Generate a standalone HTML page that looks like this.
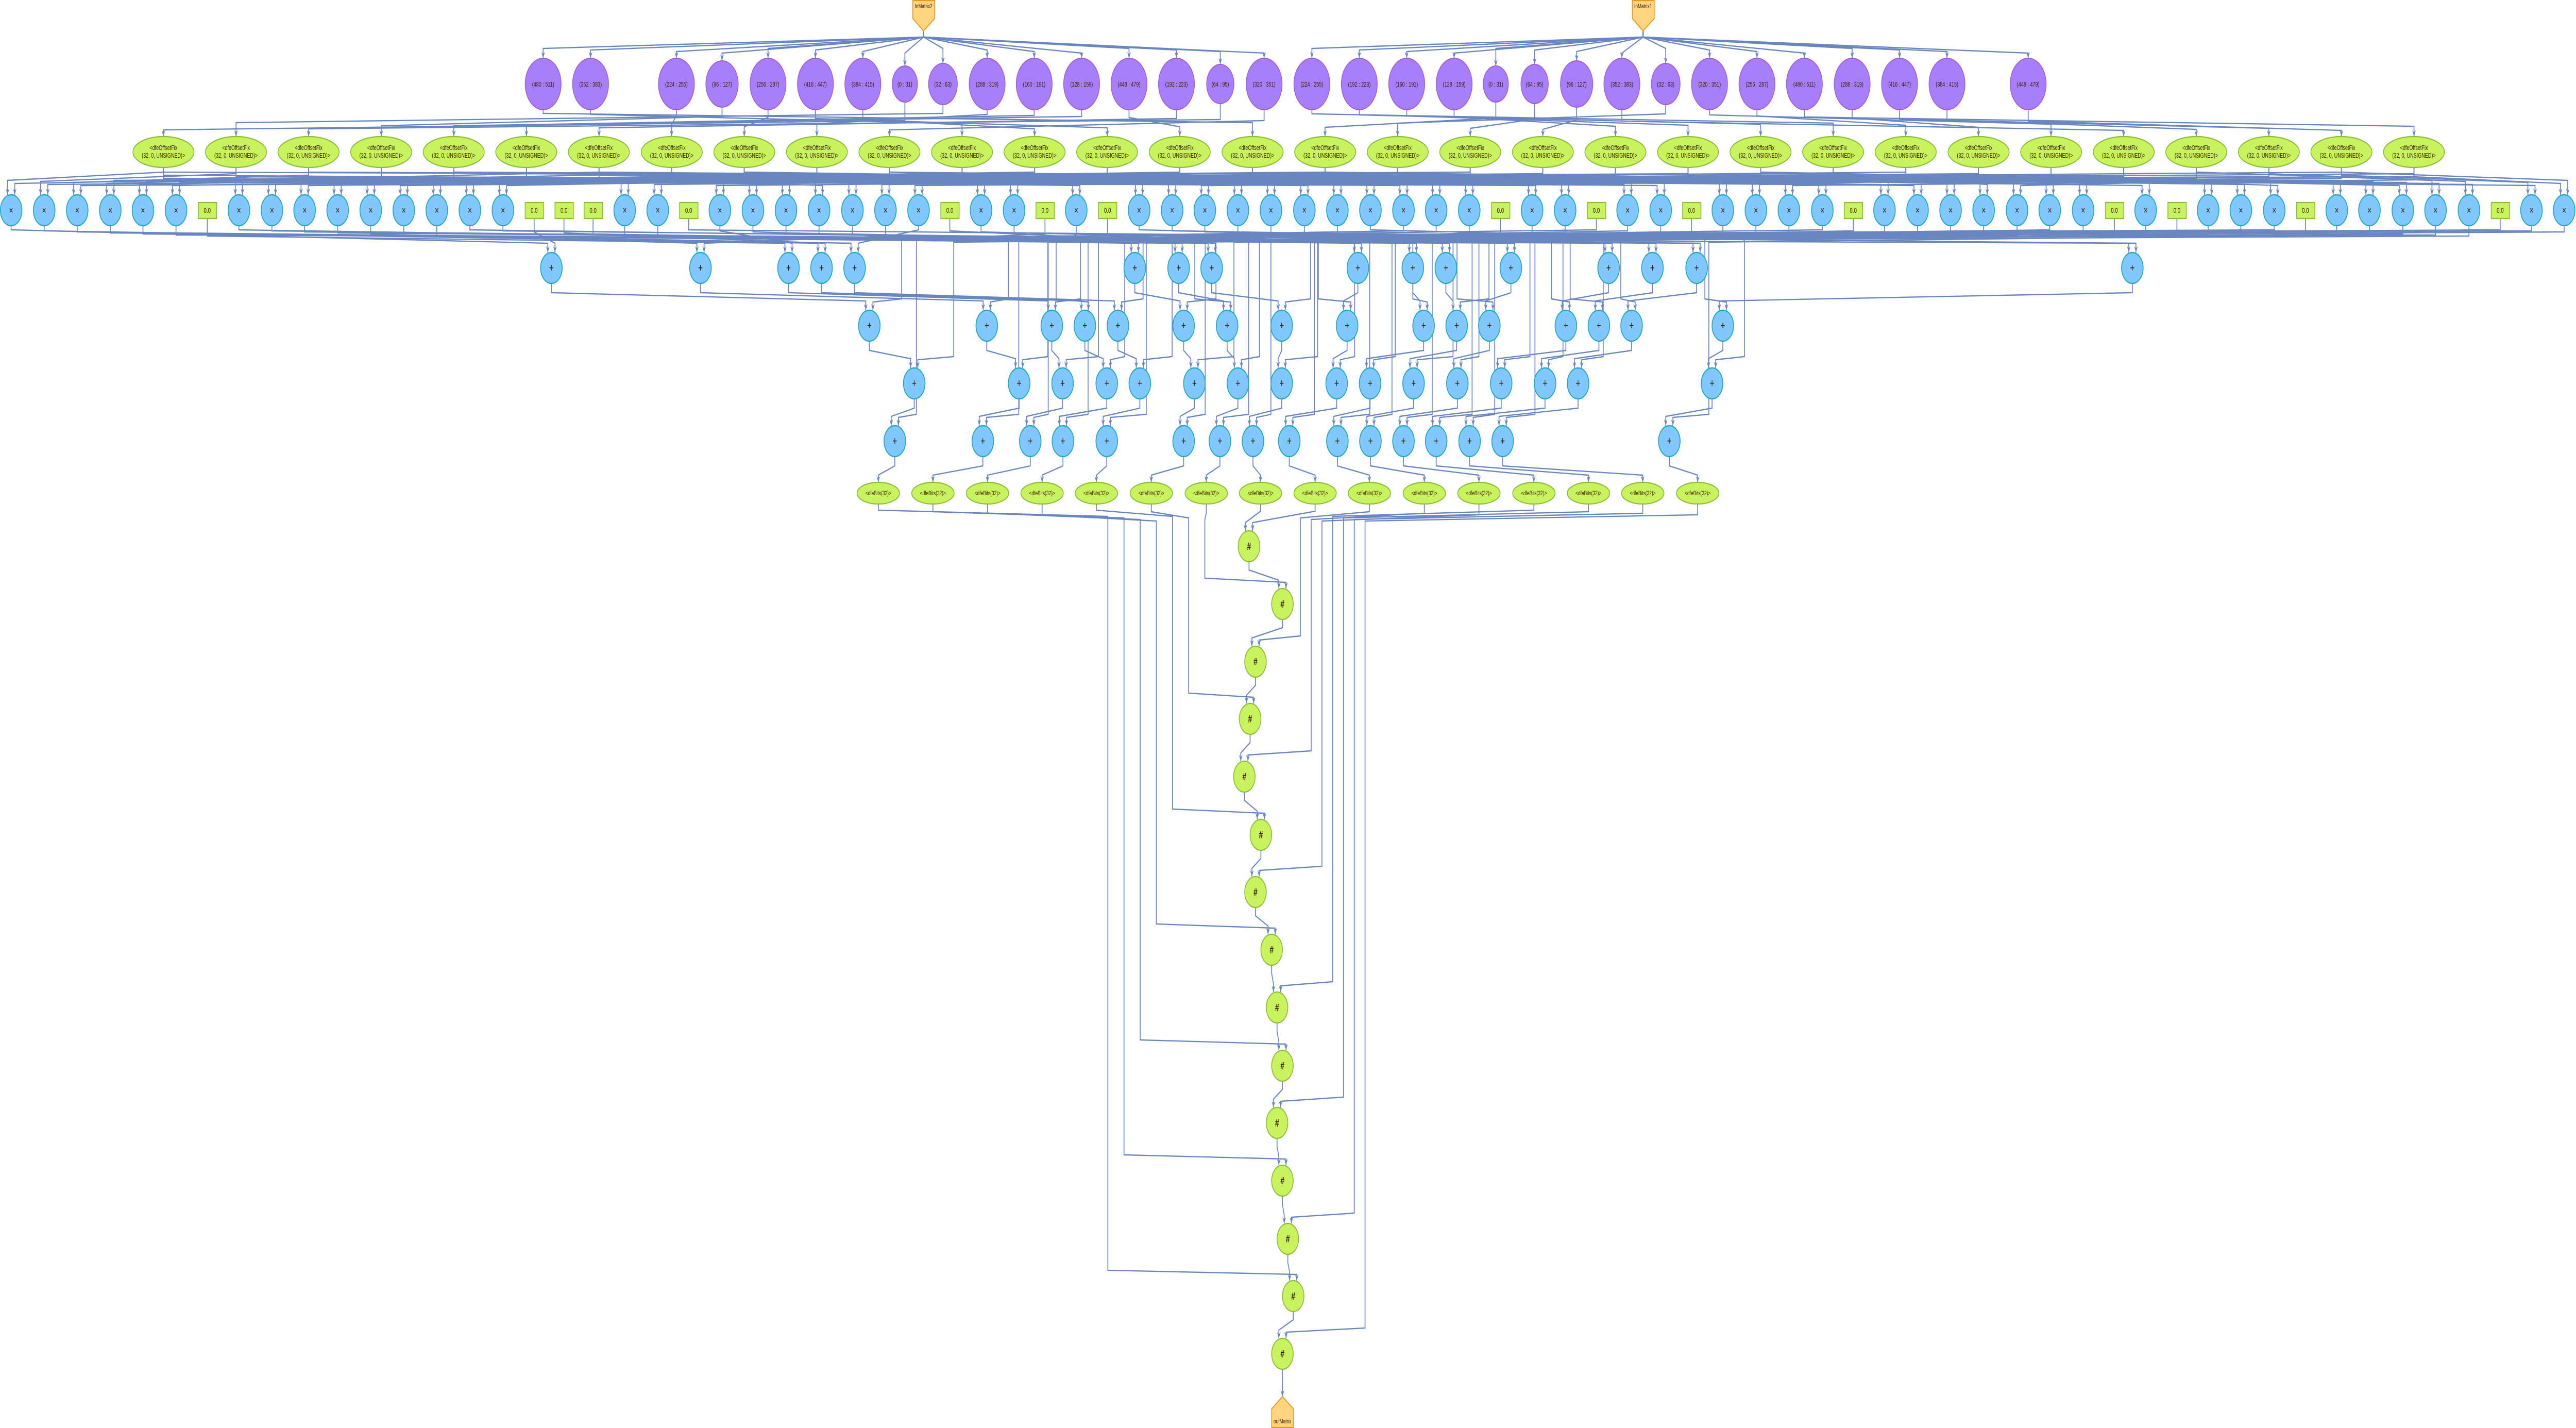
<!DOCTYPE html>
<html><head><meta charset="utf-8">
<style>
html,body{margin:0;padding:0;background:#fff;width:100%;height:100%;overflow:hidden;}
svg{display:block;width:100vw;height:100vh;}
#edges polyline{fill:none;stroke:#6a86c0;stroke-width:2.4;}
#edges .ah{fill:#6a86c0;stroke:none;}
.p circle{fill:#a87ffb;stroke:#a45ad6;stroke-width:2;}
.g ellipse{fill:#c9f25f;stroke:#8cbc3a;stroke-width:2.2;}
.b circle{fill:#80c8ff;stroke:#26a9c0;stroke-width:2.4;}
.r rect{fill:#c9f25f;stroke:#8cbc3a;stroke-width:2.2;}
.h circle{fill:#c9f25f;stroke:#8cbc3a;stroke-width:2.2;}
.o path{fill:#ffd580;stroke:#f0961e;stroke-width:2.2;}
text{font-family:"Liberation Sans",sans-serif;fill:#3a1e00;text-anchor:middle;}
.tp text{font-size:13px;}
.tg text{font-size:13px;}
.tx text{font-size:20px;}
.tpl text{font-size:22px;}
.tr text{font-size:14px;}
.td text{font-size:12px;}
.th text{font-size:20px;font-weight:bold;}
.to text{font-size:12px;}
</style></head><body>
<svg id="s" viewBox="0 0 7171 2771" preserveAspectRatio="none" xmlns="http://www.w3.org/2000/svg">
<g id="edges"></g>

<g class="o">
<path d="M2541,1 L2602,1 L2602,36 L2571,60 L2541,36 Z"/>
<path d="M4544,1 L4605,1 L4605,36 L4574,60 L4544,36 Z"/>
<path d="M3570,2710 L3601,2734 L3601,2770 L3540,2770 L3540,2734 Z"/>
</g>
<g class="to">
<text x="2571" y="16">InMatrix2</text>
<text x="4574" y="16">InMatrix1</text>
<text x="3570" y="2762">outMatrix</text>
</g>

<g class="p">
<circle cx="1512" cy="163" r="50"/><circle cx="1644" cy="163" r="50"/><circle cx="1883" cy="163" r="50"/><circle cx="2010" cy="163" r="45"/>
<circle cx="2138" cy="163" r="50"/><circle cx="2270" cy="163" r="50"/><circle cx="2402" cy="163" r="50"/><circle cx="2519" cy="163" r="35"/>
<circle cx="2625" cy="163" r="40"/><circle cx="2748" cy="163" r="50"/><circle cx="2879" cy="163" r="50"/><circle cx="3011" cy="163" r="50"/>
<circle cx="3143" cy="163" r="50"/><circle cx="3275" cy="163" r="50"/><circle cx="3397" cy="163" r="38"/><circle cx="3519" cy="163" r="50"/>
<circle cx="3652" cy="163" r="50"/><circle cx="3784" cy="163" r="50"/><circle cx="3916" cy="163" r="50"/><circle cx="4048" cy="163" r="50"/>
<circle cx="4164" cy="163" r="35"/><circle cx="4272" cy="163" r="38"/><circle cx="4389" cy="163" r="45"/><circle cx="4515" cy="163" r="50"/>
<circle cx="4637" cy="163" r="40"/><circle cx="4759" cy="163" r="50"/><circle cx="4891" cy="163" r="50"/><circle cx="5023" cy="163" r="50"/>
<circle cx="5156" cy="163" r="50"/><circle cx="5288" cy="163" r="50"/><circle cx="5420" cy="163" r="50"/><circle cx="5646" cy="163" r="50"/>
</g>
<g class="tp">
<text x="1512" y="168">(480 : 511)</text><text x="1644" y="168">(352 : 383)</text><text x="1883" y="168">(224 : 255)</text><text x="2010" y="168">(96 : 127)</text>
<text x="2138" y="168">(256 : 287)</text><text x="2270" y="168">(416 : 447)</text><text x="2402" y="168">(384 : 415)</text><text x="2519" y="168">(0 : 31)</text>
<text x="2625" y="168">(32 : 63)</text><text x="2748" y="168">(288 : 319)</text><text x="2879" y="168">(160 : 191)</text><text x="3011" y="168">(128 : 159)</text>
<text x="3143" y="168">(448 : 479)</text><text x="3275" y="168">(192 : 223)</text><text x="3397" y="168">(64 : 95)</text><text x="3519" y="168">(320 : 351)</text>
<text x="3652" y="168">(224 : 255)</text><text x="3784" y="168">(192 : 223)</text><text x="3916" y="168">(160 : 191)</text><text x="4048" y="168">(128 : 159)</text>
<text x="4164" y="168">(0 : 31)</text><text x="4272" y="168">(64 : 95)</text><text x="4389" y="168">(96 : 127)</text><text x="4515" y="168">(352 : 383)</text>
<text x="4637" y="168">(32 : 63)</text><text x="4759" y="168">(320 : 351)</text><text x="4891" y="168">(256 : 287)</text><text x="5023" y="168">(480 : 511)</text>
<text x="5156" y="168">(288 : 319)</text><text x="5288" y="168">(416 : 447)</text><text x="5420" y="168">(384 : 415)</text><text x="5646" y="168">(448 : 479)</text>
</g>

<g class="g">
<ellipse cx="455" cy="295" rx="85" ry="30"/><ellipse cx="657" cy="295" rx="85" ry="30"/><ellipse cx="859" cy="295" rx="85" ry="30"/><ellipse cx="1061" cy="295" rx="85" ry="30"/>
<ellipse cx="1263" cy="295" rx="85" ry="30"/><ellipse cx="1465" cy="295" rx="85" ry="30"/><ellipse cx="1667" cy="295" rx="85" ry="30"/><ellipse cx="1870" cy="295" rx="85" ry="30"/>
<ellipse cx="2072" cy="295" rx="85" ry="30"/><ellipse cx="2274" cy="295" rx="85" ry="30"/><ellipse cx="2476" cy="295" rx="85" ry="30"/><ellipse cx="2678" cy="295" rx="85" ry="30"/>
<ellipse cx="2880" cy="295" rx="85" ry="30"/><ellipse cx="3082" cy="295" rx="85" ry="30"/><ellipse cx="3284" cy="295" rx="85" ry="30"/><ellipse cx="3487" cy="295" rx="85" ry="30"/>
<ellipse cx="3689" cy="295" rx="85" ry="30"/><ellipse cx="3891" cy="295" rx="85" ry="30"/><ellipse cx="4093" cy="295" rx="85" ry="30"/><ellipse cx="4295" cy="295" rx="85" ry="30"/>
<ellipse cx="4497" cy="295" rx="85" ry="30"/><ellipse cx="4699" cy="295" rx="85" ry="30"/><ellipse cx="4901" cy="295" rx="85" ry="30"/><ellipse cx="5103" cy="295" rx="85" ry="30"/>
<ellipse cx="5305" cy="295" rx="85" ry="30"/><ellipse cx="5508" cy="295" rx="85" ry="30"/><ellipse cx="5710" cy="295" rx="85" ry="30"/><ellipse cx="5912" cy="295" rx="85" ry="30"/>
<ellipse cx="6114" cy="295" rx="85" ry="30"/><ellipse cx="6316" cy="295" rx="85" ry="30"/><ellipse cx="6518" cy="295" rx="85" ry="30"/><ellipse cx="6720" cy="295" rx="85" ry="30"/>
</g>
<g class="tg">
<text x="455" y="291">&lt;dfeOffsetFix</text><text x="455" y="306">(32, 0, UNSIGNED)&gt;</text>
<text x="657" y="291">&lt;dfeOffsetFix</text><text x="657" y="306">(32, 0, UNSIGNED)&gt;</text>
<text x="859" y="291">&lt;dfeOffsetFix</text><text x="859" y="306">(32, 0, UNSIGNED)&gt;</text>
<text x="1061" y="291">&lt;dfeOffsetFix</text><text x="1061" y="306">(32, 0, UNSIGNED)&gt;</text>
<text x="1263" y="291">&lt;dfeOffsetFix</text><text x="1263" y="306">(32, 0, UNSIGNED)&gt;</text>
<text x="1465" y="291">&lt;dfeOffsetFix</text><text x="1465" y="306">(32, 0, UNSIGNED)&gt;</text>
<text x="1667" y="291">&lt;dfeOffsetFix</text><text x="1667" y="306">(32, 0, UNSIGNED)&gt;</text>
<text x="1870" y="291">&lt;dfeOffsetFix</text><text x="1870" y="306">(32, 0, UNSIGNED)&gt;</text>
<text x="2072" y="291">&lt;dfeOffsetFix</text><text x="2072" y="306">(32, 0, UNSIGNED)&gt;</text>
<text x="2274" y="291">&lt;dfeOffsetFix</text><text x="2274" y="306">(32, 0, UNSIGNED)&gt;</text>
<text x="2476" y="291">&lt;dfeOffsetFix</text><text x="2476" y="306">(32, 0, UNSIGNED)&gt;</text>
<text x="2678" y="291">&lt;dfeOffsetFix</text><text x="2678" y="306">(32, 0, UNSIGNED)&gt;</text>
<text x="2880" y="291">&lt;dfeOffsetFix</text><text x="2880" y="306">(32, 0, UNSIGNED)&gt;</text>
<text x="3082" y="291">&lt;dfeOffsetFix</text><text x="3082" y="306">(32, 0, UNSIGNED)&gt;</text>
<text x="3284" y="291">&lt;dfeOffsetFix</text><text x="3284" y="306">(32, 0, UNSIGNED)&gt;</text>
<text x="3487" y="291">&lt;dfeOffsetFix</text><text x="3487" y="306">(32, 0, UNSIGNED)&gt;</text>
<text x="3689" y="291">&lt;dfeOffsetFix</text><text x="3689" y="306">(32, 0, UNSIGNED)&gt;</text>
<text x="3891" y="291">&lt;dfeOffsetFix</text><text x="3891" y="306">(32, 0, UNSIGNED)&gt;</text>
<text x="4093" y="291">&lt;dfeOffsetFix</text><text x="4093" y="306">(32, 0, UNSIGNED)&gt;</text>
<text x="4295" y="291">&lt;dfeOffsetFix</text><text x="4295" y="306">(32, 0, UNSIGNED)&gt;</text>
<text x="4497" y="291">&lt;dfeOffsetFix</text><text x="4497" y="306">(32, 0, UNSIGNED)&gt;</text>
<text x="4699" y="291">&lt;dfeOffsetFix</text><text x="4699" y="306">(32, 0, UNSIGNED)&gt;</text>
<text x="4901" y="291">&lt;dfeOffsetFix</text><text x="4901" y="306">(32, 0, UNSIGNED)&gt;</text>
<text x="5103" y="291">&lt;dfeOffsetFix</text><text x="5103" y="306">(32, 0, UNSIGNED)&gt;</text>
<text x="5305" y="291">&lt;dfeOffsetFix</text><text x="5305" y="306">(32, 0, UNSIGNED)&gt;</text>
<text x="5508" y="291">&lt;dfeOffsetFix</text><text x="5508" y="306">(32, 0, UNSIGNED)&gt;</text>
<text x="5710" y="291">&lt;dfeOffsetFix</text><text x="5710" y="306">(32, 0, UNSIGNED)&gt;</text>
<text x="5912" y="291">&lt;dfeOffsetFix</text><text x="5912" y="306">(32, 0, UNSIGNED)&gt;</text>
<text x="6114" y="291">&lt;dfeOffsetFix</text><text x="6114" y="306">(32, 0, UNSIGNED)&gt;</text>
<text x="6316" y="291">&lt;dfeOffsetFix</text><text x="6316" y="306">(32, 0, UNSIGNED)&gt;</text>
<text x="6518" y="291">&lt;dfeOffsetFix</text><text x="6518" y="306">(32, 0, UNSIGNED)&gt;</text>
<text x="6720" y="291">&lt;dfeOffsetFix</text><text x="6720" y="306">(32, 0, UNSIGNED)&gt;</text>
</g>

<g class="b">
<circle cx="31" cy="408" r="30"/><circle cx="123" cy="408" r="30"/><circle cx="215" cy="408" r="30"/><circle cx="307" cy="408" r="30"/><circle cx="398" cy="408" r="30"/><circle cx="490" cy="408" r="30"/>
<circle cx="665" cy="408" r="30"/><circle cx="757" cy="408" r="30"/><circle cx="848" cy="408" r="30"/><circle cx="940" cy="408" r="30"/><circle cx="1032" cy="408" r="30"/><circle cx="1124" cy="408" r="30"/><circle cx="1216" cy="408" r="30"/><circle cx="1308" cy="408" r="30"/><circle cx="1400" cy="408" r="30"/>
<circle cx="1739" cy="408" r="30"/><circle cx="1831" cy="408" r="30"/>
<circle cx="2004" cy="408" r="30"/><circle cx="2096" cy="408" r="30"/><circle cx="2188" cy="408" r="30"/><circle cx="2280" cy="408" r="30"/><circle cx="2373" cy="408" r="30"/><circle cx="2465" cy="408" r="30"/><circle cx="2557" cy="408" r="30"/>
<circle cx="2731" cy="408" r="30"/><circle cx="2823" cy="408" r="30"/><circle cx="2996" cy="408" r="30"/>
<circle cx="3171" cy="408" r="30"/><circle cx="3263" cy="408" r="30"/><circle cx="3354" cy="408" r="30"/><circle cx="3446" cy="408" r="30"/><circle cx="3538" cy="408" r="30"/><circle cx="3631" cy="408" r="30"/><circle cx="3723" cy="408" r="30"/><circle cx="3815" cy="408" r="30"/><circle cx="3907" cy="408" r="30"/><circle cx="3998" cy="408" r="30"/><circle cx="4090" cy="408" r="30"/>
<circle cx="4265" cy="408" r="30"/><circle cx="4357" cy="408" r="30"/><circle cx="4531" cy="408" r="30"/><circle cx="4623" cy="408" r="30"/>
<circle cx="4796" cy="408" r="30"/><circle cx="4888" cy="408" r="30"/><circle cx="4980" cy="408" r="30"/><circle cx="5073" cy="408" r="30"/>
<circle cx="5246" cy="408" r="30"/><circle cx="5338" cy="408" r="30"/><circle cx="5430" cy="408" r="30"/><circle cx="5522" cy="408" r="30"/><circle cx="5615" cy="408" r="30"/><circle cx="5706" cy="408" r="30"/><circle cx="5799" cy="408" r="30"/>
<circle cx="5973" cy="408" r="30"/><circle cx="6147" cy="408" r="30"/><circle cx="6238" cy="408" r="30"/><circle cx="6331" cy="408" r="30"/>
<circle cx="6505" cy="408" r="30"/><circle cx="6596" cy="408" r="30"/><circle cx="6689" cy="408" r="30"/><circle cx="6780" cy="408" r="30"/><circle cx="6873" cy="408" r="30"/>
<circle cx="7047" cy="408" r="30"/><circle cx="7138" cy="408" r="30"/>
<circle cx="1535" cy="520" r="30"/><circle cx="1950" cy="520" r="30"/><circle cx="2195" cy="520" r="30"/><circle cx="2287" cy="520" r="30"/><circle cx="2379" cy="520" r="30"/><circle cx="3159" cy="520" r="30"/><circle cx="3281" cy="520" r="30"/><circle cx="3373" cy="520" r="30"/><circle cx="3780" cy="520" r="30"/><circle cx="3933" cy="520" r="30"/><circle cx="4025" cy="520" r="30"/><circle cx="4206" cy="520" r="30"/><circle cx="4478" cy="520" r="30"/><circle cx="4600" cy="520" r="30"/><circle cx="4723" cy="520" r="30"/><circle cx="5936" cy="520" r="30"/>
<circle cx="2420" cy="632" r="30"/><circle cx="2747" cy="632" r="30"/><circle cx="2928" cy="632" r="30"/><circle cx="3020" cy="632" r="30"/><circle cx="3112" cy="632" r="30"/><circle cx="3295" cy="632" r="30"/><circle cx="3416" cy="632" r="30"/><circle cx="3568" cy="632" r="30"/><circle cx="3750" cy="632" r="30"/><circle cx="3963" cy="632" r="30"/><circle cx="4055" cy="632" r="30"/><circle cx="4146" cy="632" r="30"/><circle cx="4359" cy="632" r="30"/><circle cx="4451" cy="632" r="30"/><circle cx="4542" cy="632" r="30"/><circle cx="4796" cy="632" r="30"/>
<circle cx="2545" cy="744" r="30"/><circle cx="2837" cy="744" r="30"/><circle cx="2958" cy="744" r="30"/><circle cx="3081" cy="744" r="30"/><circle cx="3173" cy="744" r="30"/><circle cx="3325" cy="744" r="30"/><circle cx="3446" cy="744" r="30"/><circle cx="3568" cy="744" r="30"/><circle cx="3721" cy="744" r="30"/><circle cx="3814" cy="744" r="30"/><circle cx="3935" cy="744" r="30"/><circle cx="4057" cy="744" r="30"/><circle cx="4179" cy="744" r="30"/><circle cx="4301" cy="744" r="30"/><circle cx="4393" cy="744" r="30"/><circle cx="4766" cy="744" r="30"/>
<circle cx="2491" cy="856" r="30"/><circle cx="2736" cy="856" r="30"/><circle cx="2868" cy="856" r="30"/><circle cx="2959" cy="856" r="30"/><circle cx="3081" cy="856" r="30"/><circle cx="3295" cy="856" r="30"/><circle cx="3396" cy="856" r="30"/><circle cx="3488" cy="856" r="30"/><circle cx="3589" cy="856" r="30"/><circle cx="3723" cy="856" r="30"/><circle cx="3815" cy="856" r="30"/><circle cx="3907" cy="856" r="30"/><circle cx="3998" cy="856" r="30"/><circle cx="4091" cy="856" r="30"/><circle cx="4183" cy="856" r="30"/><circle cx="4647" cy="856" r="30"/>
</g>
<g class="tx">
<text x="31" y="415">×</text><text x="123" y="415">×</text><text x="215" y="415">×</text><text x="307" y="415">×</text><text x="398" y="415">×</text><text x="490" y="415">×</text>
<text x="665" y="415">×</text><text x="757" y="415">×</text><text x="848" y="415">×</text><text x="940" y="415">×</text><text x="1032" y="415">×</text><text x="1124" y="415">×</text><text x="1216" y="415">×</text><text x="1308" y="415">×</text><text x="1400" y="415">×</text>
<text x="1739" y="415">×</text><text x="1831" y="415">×</text>
<text x="2004" y="415">×</text><text x="2096" y="415">×</text><text x="2188" y="415">×</text><text x="2280" y="415">×</text><text x="2373" y="415">×</text><text x="2465" y="415">×</text><text x="2557" y="415">×</text>
<text x="2731" y="415">×</text><text x="2823" y="415">×</text><text x="2996" y="415">×</text>
<text x="3171" y="415">×</text><text x="3263" y="415">×</text><text x="3354" y="415">×</text><text x="3446" y="415">×</text><text x="3538" y="415">×</text><text x="3631" y="415">×</text><text x="3723" y="415">×</text><text x="3815" y="415">×</text><text x="3907" y="415">×</text><text x="3998" y="415">×</text><text x="4090" y="415">×</text>
<text x="4265" y="415">×</text><text x="4357" y="415">×</text><text x="4531" y="415">×</text><text x="4623" y="415">×</text>
<text x="4796" y="415">×</text><text x="4888" y="415">×</text><text x="4980" y="415">×</text><text x="5073" y="415">×</text>
<text x="5246" y="415">×</text><text x="5338" y="415">×</text><text x="5430" y="415">×</text><text x="5522" y="415">×</text><text x="5615" y="415">×</text><text x="5706" y="415">×</text><text x="5799" y="415">×</text>
<text x="5973" y="415">×</text><text x="6147" y="415">×</text><text x="6238" y="415">×</text><text x="6331" y="415">×</text>
<text x="6505" y="415">×</text><text x="6596" y="415">×</text><text x="6689" y="415">×</text><text x="6780" y="415">×</text><text x="6873" y="415">×</text>
<text x="7047" y="415">×</text><text x="7138" y="415">×</text>
</g>
<g class="tpl">
<text x="1535" y="527">+</text><text x="1950" y="527">+</text><text x="2195" y="527">+</text><text x="2287" y="527">+</text><text x="2379" y="527">+</text><text x="3159" y="527">+</text><text x="3281" y="527">+</text><text x="3373" y="527">+</text><text x="3780" y="527">+</text><text x="3933" y="527">+</text><text x="4025" y="527">+</text><text x="4206" y="527">+</text><text x="4478" y="527">+</text><text x="4600" y="527">+</text><text x="4723" y="527">+</text><text x="5936" y="527">+</text>
<text x="2420" y="639">+</text><text x="2747" y="639">+</text><text x="2928" y="639">+</text><text x="3020" y="639">+</text><text x="3112" y="639">+</text><text x="3295" y="639">+</text><text x="3416" y="639">+</text><text x="3568" y="639">+</text><text x="3750" y="639">+</text><text x="3963" y="639">+</text><text x="4055" y="639">+</text><text x="4146" y="639">+</text><text x="4359" y="639">+</text><text x="4451" y="639">+</text><text x="4542" y="639">+</text><text x="4796" y="639">+</text>
<text x="2545" y="751">+</text><text x="2837" y="751">+</text><text x="2958" y="751">+</text><text x="3081" y="751">+</text><text x="3173" y="751">+</text><text x="3325" y="751">+</text><text x="3446" y="751">+</text><text x="3568" y="751">+</text><text x="3721" y="751">+</text><text x="3814" y="751">+</text><text x="3935" y="751">+</text><text x="4057" y="751">+</text><text x="4179" y="751">+</text><text x="4301" y="751">+</text><text x="4393" y="751">+</text><text x="4766" y="751">+</text>
<text x="2491" y="863">+</text><text x="2736" y="863">+</text><text x="2868" y="863">+</text><text x="2959" y="863">+</text><text x="3081" y="863">+</text><text x="3295" y="863">+</text><text x="3396" y="863">+</text><text x="3488" y="863">+</text><text x="3589" y="863">+</text><text x="3723" y="863">+</text><text x="3815" y="863">+</text><text x="3907" y="863">+</text><text x="3998" y="863">+</text><text x="4091" y="863">+</text><text x="4183" y="863">+</text><text x="4647" y="863">+</text>
</g>

<g class="r">
<rect x="552" y="393" width="51" height="31"/><rect x="1462" y="393" width="51" height="31"/><rect x="1545" y="393" width="51" height="31"/><rect x="1626" y="393" width="51" height="31"/>
<rect x="1892" y="393" width="51" height="31"/><rect x="2619" y="393" width="51" height="31"/><rect x="2884" y="393" width="51" height="31"/><rect x="3058" y="393" width="51" height="31"/>
<rect x="4152" y="393" width="51" height="31"/><rect x="4419" y="393" width="51" height="31"/><rect x="4684" y="393" width="51" height="31"/><rect x="5134" y="393" width="51" height="31"/>
<rect x="5861" y="393" width="51" height="31"/><rect x="6035" y="393" width="51" height="31"/><rect x="6393" y="393" width="51" height="31"/><rect x="6935" y="393" width="51" height="31"/>
</g>
<g class="tr">
<text x="577" y="413">0.0</text><text x="1487" y="413">0.0</text><text x="1570" y="413">0.0</text><text x="1651" y="413">0.0</text>
<text x="1917" y="413">0.0</text><text x="2644" y="413">0.0</text><text x="2909" y="413">0.0</text><text x="3083" y="413">0.0</text>
<text x="4177" y="413">0.0</text><text x="4444" y="413">0.0</text><text x="4709" y="413">0.0</text><text x="5159" y="413">0.0</text>
<text x="5886" y="413">0.0</text><text x="6060" y="413">0.0</text><text x="6418" y="413">0.0</text><text x="6960" y="413">0.0</text>
</g>

<g class="g">
<ellipse cx="2445" cy="957" rx="59" ry="21"/><ellipse cx="2597" cy="957" rx="59" ry="21"/><ellipse cx="2749" cy="957" rx="59" ry="21"/><ellipse cx="2901" cy="957" rx="59" ry="21"/>
<ellipse cx="3052" cy="957" rx="59" ry="21"/><ellipse cx="3205" cy="957" rx="59" ry="21"/><ellipse cx="3358" cy="957" rx="59" ry="21"/><ellipse cx="3509" cy="957" rx="59" ry="21"/>
<ellipse cx="3661" cy="957" rx="59" ry="21"/><ellipse cx="3812" cy="957" rx="59" ry="21"/><ellipse cx="3965" cy="957" rx="59" ry="21"/><ellipse cx="4117" cy="957" rx="59" ry="21"/>
<ellipse cx="4270" cy="957" rx="59" ry="21"/><ellipse cx="4422" cy="957" rx="59" ry="21"/><ellipse cx="4573" cy="957" rx="59" ry="21"/><ellipse cx="4726" cy="957" rx="59" ry="21"/>
</g>
<g class="td">
<text x="2445" y="961">&lt;dfeBits(32)&gt;</text><text x="2597" y="961">&lt;dfeBits(32)&gt;</text><text x="2749" y="961">&lt;dfeBits(32)&gt;</text><text x="2901" y="961">&lt;dfeBits(32)&gt;</text>
<text x="3052" y="961">&lt;dfeBits(32)&gt;</text><text x="3205" y="961">&lt;dfeBits(32)&gt;</text><text x="3358" y="961">&lt;dfeBits(32)&gt;</text><text x="3509" y="961">&lt;dfeBits(32)&gt;</text>
<text x="3661" y="961">&lt;dfeBits(32)&gt;</text><text x="3812" y="961">&lt;dfeBits(32)&gt;</text><text x="3965" y="961">&lt;dfeBits(32)&gt;</text><text x="4117" y="961">&lt;dfeBits(32)&gt;</text>
<text x="4270" y="961">&lt;dfeBits(32)&gt;</text><text x="4422" y="961">&lt;dfeBits(32)&gt;</text><text x="4573" y="961">&lt;dfeBits(32)&gt;</text><text x="4726" y="961">&lt;dfeBits(32)&gt;</text>
</g>

<g class="h">
<circle cx="3477" cy="1060" r="30"/><circle cx="3570" cy="1172" r="30"/><circle cx="3495" cy="1284" r="30"/><circle cx="3480" cy="1395" r="30"/><circle cx="3464" cy="1507" r="30"/>
<circle cx="3510" cy="1620" r="30"/><circle cx="3495" cy="1731" r="30"/><circle cx="3540" cy="1843" r="30"/><circle cx="3555" cy="1955" r="30"/><circle cx="3570" cy="2068" r="30"/>
<circle cx="3555" cy="2179" r="30"/><circle cx="3570" cy="2291" r="30"/><circle cx="3585" cy="2404" r="30"/><circle cx="3600" cy="2515" r="30"/><circle cx="3570" cy="2627" r="30"/>
</g>
<g class="th">
<text x="3477" y="1067">#</text><text x="3570" y="1179">#</text><text x="3495" y="1291">#</text><text x="3480" y="1402">#</text><text x="3464" y="1514">#</text>
<text x="3510" y="1627">#</text><text x="3495" y="1738">#</text><text x="3540" y="1850">#</text><text x="3555" y="1962">#</text><text x="3570" y="2075">#</text>
<text x="3555" y="2186">#</text><text x="3570" y="2298">#</text><text x="3585" y="2411">#</text><text x="3600" y="2522">#</text><text x="3570" y="2634">#</text>
</g>
</svg>
<script>
(function(){
var NS='http://www.w3.org/2000/svg';
var E=document.getElementById('edges');
function pl(pts,arrow){
  var p=document.createElementNS(NS,'polyline');
  p.setAttribute('points',pts.map(function(a){return a[0]+','+a[1];}).join(' '));
  E.appendChild(p);
  if(arrow){var l=pts[pts.length-1],x=l[0],y=l[1];
    var t=document.createElementNS(NS,'path');
    t.setAttribute('d','M'+(x-5)+','+(y-12)+'L'+x+','+y+'L'+(x+5)+','+(y-12)+'L'+x+','+(y-8)+'Z');
    t.setAttribute('class','ah');E.appendChild(t);}
}
var P1=[[1512,50,15],[1644,50,11],[1883,50,7],[2010,45,3],[2138,50,8],[2270,50,13],[2402,50,12],[2519,35,0],[2625,40,1],[2748,50,9],[2879,50,5],[3011,50,4],[3143,50,14],[3275,50,6],[3397,38,2],[3519,50,10]];
var P2=[[3652,50,7],[3784,50,6],[3916,50,5],[4048,50,4],[4164,35,0],[4272,38,2],[4389,45,3],[4515,50,11],[4637,40,1],[4759,50,10],[4891,50,8],[5023,50,15],[5156,50,9],[5288,50,13],[5420,50,12],[5646,50,14]];
function GX(k){return 455+202.1*k;}
P1.forEach(function(p,i){pl([[2571,60],[2571,72],[p[0],94+(i%4)*3],[p[0],163-p[1]]],1);});
P2.forEach(function(p,i){pl([[4574,60],[4574,72],[p[0],94+(i%4)*3],[p[0],163-p[1]]],1);});
P1.forEach(function(p,i){var g=GX(p[2]);pl([[p[0],163+p[1]],[p[0],220+(i%8)*2],[g,238+(i%8)*2],[g,265]],1);});
P2.forEach(function(p,i){var g=GX(16+p[2]);pl([[p[0],163+p[1]],[p[0],221+(i%8)*2],[g,239+(i%8)*2],[g,265]],1);});
var items="X31,X123,X215,X307,X398,X490,R577,X665,X757,X848,X940,X1032,X1124,X1216,X1308,X1400,R1487,R1570,R1651,X1739,X1831,R1917,X2004,X2096,X2188,X2280,X2373,X2465,X2557,R2644,X2731,X2823,R2909,X2996,R3083,X3171,X3263,X3354,X3446,X3538,X3631,X3723,X3815,X3907,X3998,X4090,R4177,X4265,X4357,R4444,X4531,X4623,R4709,X4796,X4888,X4980,X5073,R5159,X5246,X5338,X5430,X5522,X5615,X5706,X5799,R5886,X5973,R6060,X6147,X6238,X6331,R6418,X6505,X6596,X6689,X6780,X6873,R6960,X7047,X7138".split(',').map(function(s){return [s[0],+s.slice(1)];});
var m=0;
items.forEach(function(it){ if(it[0]!='X')return; var x=it[1];
  var a=m%32,b=(m*5+3)%32,o=m%6,o2=(o+3)%6;
  pl([[GX(a),325],[GX(a),334+o*3],[x-10,350+o*2],[x-10,378]],1);
  pl([[GX(b),325],[GX(b),334+o2*3],[x+10,350+o2*2],[x+10,378]],1);
  m++;});
var R=[[1535,1950,2195,2287,2379,3159,3281,3373,3780,3933,4025,4206,4478,4600,4723,5936],
[2420,2747,2928,3020,3112,3295,3416,3568,3750,3963,4055,4146,4359,4451,4542,4796],
[2545,2837,2958,3081,3173,3325,3446,3568,3721,3814,3935,4057,4179,4301,4393,4766],
[2491,2736,2868,2959,3081,3295,3396,3488,3589,3723,3815,3907,3998,4091,4183,4647]];
var RY=[520,632,744,856];
var DB=[2445,2597,2749,2901,3052,3205,3358,3509,3661,3812,3965,4117,4270,4422,4573,4726];
var cnt=[];for(var q=0;q<16;q++)cnt.push(0);
items.forEach(function(it,i){var j=(i*3)%16,s=cnt[j]++;var sx=it[1],sb=it[0]=='X'?438:424;
  var row=s<2?0:s-1;var tx=R[row][j]+(s==0?-10:10);var ty=RY[row]-30;var k=i%7;
  if(row==0){pl([[sx,sb],[sx,446+k*2],[tx,ty-18],[tx,ty]],1);}
  else{var mx=tx+(sx<tx?-1:1)*(40+k*10);pl([[sx,sb],[sx,446+k*2],[mx,458+k*2],[mx,ty-22],[tx,ty-16],[tx,ty]],1);}
});
for(var j=0;j<16;j++){
  for(var r=0;r<3;r++){pl([[R[r][j],RY[r]+30],[R[r][j],RY[r]+48],[R[r+1][j]-10,RY[r+1]-48],[R[r+1][j]-10,RY[r+1]-30]],1);}
  pl([[R[3][j],886],[R[3][j],904],[DB[j],922],[DB[j],936]],1);
}
var H=[[3477,1060],[3570,1172],[3495,1284],[3480,1395],[3464,1507],[3510,1620],[3495,1731],[3540,1843],[3555,1955],[3570,2068],[3555,2179],[3570,2291],[3585,2404],[3600,2515],[3570,2627]];
var ord=[7,8,6,9,5,10,4,11,3,12,2,13,1,14,0,15];
function dfeTo(i,k,side){var hx=H[k][0],hy=H[k][1],ax=hx+side,dx=DB[i];
  if(i==7||i==8){pl([[dx,978],[dx,992],[ax,hy-46],[ax,hy-30]],1);return;}
  var mx=i<7?3084+i*45:3620+(i-9)*30;
  pl([[dx,978],[dx,990+(i%4)*3],[mx,1002+(i%4)*3],[mx,hy-50],[ax,hy-42],[ax,hy-30]],1);}
dfeTo(7,0,-10);dfeTo(8,0,10);
for(var k=1;k<15;k++){
  var p=H[k-1],n=H[k];
  pl([[p[0],p[1]+30],[p[0],p[1]+46],[n[0]-10,n[1]-46],[n[0]-10,n[1]-30]],1);
  dfeTo(ord[k+1],k,10);
}
pl([[3570,2657],[3570,2710]],1);
})();
</script>
</body></html>
